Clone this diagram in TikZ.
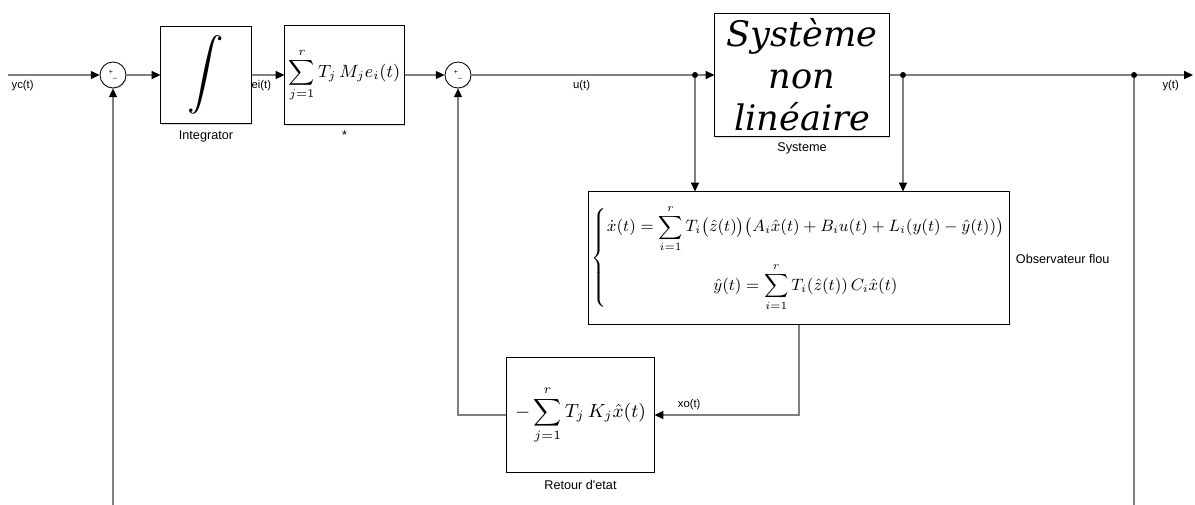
\documentclass[tikz,border=0pt]{standalone}
\usepackage{amsmath}
\usepackage{fontspec}
\newfontfamily\simfont{Liberation Sans}
\newfontfamily\sysfont{DejaVu Serif}
\usetikzlibrary{arrows.meta,shadows}

\begin{document}
\begin{tikzpicture}[x=0.025cm, y=-0.025cm, every node/.style={font=\simfont\small}, >={Triangle[length=2.2mm, width=2mm, color=black]},
	blk/.style={draw, line width=0.7pt, fill=white, inner sep=0pt, drop shadow={shadow xshift=0.8pt, shadow yshift=-0.8pt, opacity=0.3}},
	sumc/.style={draw, circle, line width=0.6pt, fill=white, minimum size=6.5mm, inner sep=0pt, drop shadow={shadow xshift=0.6pt, shadow yshift=-0.6pt, opacity=0.3}},
	dot/.style={circle, fill=black, minimum size=1.5mm, inner sep=0pt},
	sig/.style={black!50, line width=0.8pt},
	lbl/.style={font=\simfont\footnotesize, text=black}]
	\useasboundingbox (0,0) rectangle (1195,505);
	\coordinate (Yc) at (8,75);
	\node[sumc] (S1) at (113,75) {\fontsize{5}{5}\selectfont +\raisebox{-2pt}{\_}};
	\node[blk, minimum width=2.25cm, minimum height=2.425cm] (Int) at (206,75) {\scalebox{2.8}{$\displaystyle\int$}};
	\node[blk, minimum width=2.975cm, minimum height=2.475cm] (Sm) at (344.5,75) {\scalebox{1.4}{$\displaystyle\sum_{j=1}^{r} T_j\,M_j e_i(t)$}};
	\node[sumc] (S2) at (458,75) {\fontsize{5}{5}\selectfont +\raisebox{-2pt}{\_}};
	\node[dot] (J1) at (695,75) {};
	\node[blk, minimum width=4.35cm, minimum height=3.075cm, align=center, font=\sysfont\itshape\fontsize{25}{30}\selectfont] (Sys) at (802,75) {Système\\non\\linéaire};
	\node[dot] (J2) at (903,75) {};
	\node[dot] (J3) at (1134,75) {};
	\coordinate (Yend) at (1193,75);
	\node[blk, minimum width=10.5cm, minimum height=3.3cm] (Obs) at (799,258) {\scalebox{1.3}{$\left\{\begin{array}{@{}c@{}}
		\dot{x}(t)=\displaystyle\sum_{i=1}^{r}T_i\bigl(\hat{z}(t)\bigr)\bigl(A_i\hat{x}(t)+B_iu(t)+L_i(y(t)-\hat{y}(t))\bigr)\\[14pt]
		\hat{y}(t)=\displaystyle\sum_{i=1}^{r}T_i(\hat{z}(t))\,C_i\hat{x}(t)
		\end{array}\right.$}};
	\node[blk, minimum width=3.675cm, minimum height=2.85cm] (Ret) at (580.5,415) {\scalebox{1.5}{$\displaystyle-\sum_{j=1}^{r} T_j\,K_j\hat{x}(t)$}};
	\coordinate (B1) at (113,505);
	\coordinate (B3) at (1134,505);
	% noms des blocs
	\node (intname) at (206,136) {Integrator};
	\node (smname) at (344.5,135) {*};
	\node (sysname) at (802,148) {Systeme};
	\node[anchor=west] (obsname) at (1011,259) {Observateur flou};
	\node (retname) at (580.5,485) {Retour d'etat};
	% signaux
	\draw[sig, ->] (Yc) -- (S1) node[lbl, pos=0.16, below] {yc(t)};
	\draw[sig, ->] (S1) -- (Int);
	\draw[sig, ->] (Int) -- (Sm) node[lbl, pos=0.3, below] {ei(t)};
	\draw[sig, ->] (Sm) -- (S2);
	\draw[sig] (S2) -- (J1) node[lbl, midway, below] {u(t)};
	\draw[sig, ->] (J1) -- (Sys);
	\draw[sig] (Sys) -- (J2);
	\draw[sig] (J2) -- (J3);
	\draw[sig, ->] (J3) -- (Yend) node[lbl, pos=0.6, below] {y(t)};
	\draw[sig, ->] (J1) -- (J1 |- Obs.north);
	\draw[sig, ->] (J2) -- (J2 |- Obs.north);
	\draw[sig, ->] (Obs.south) |- (Ret.east) node[lbl, pos=0.88, above] {xo(t)};
	\draw[sig, ->] (Ret.west) -| (S2);
	\draw[sig, ->] (B1) -- (S1);
	\draw[sig] (J3) -- (B3);
\end{tikzpicture}
\end{document}
